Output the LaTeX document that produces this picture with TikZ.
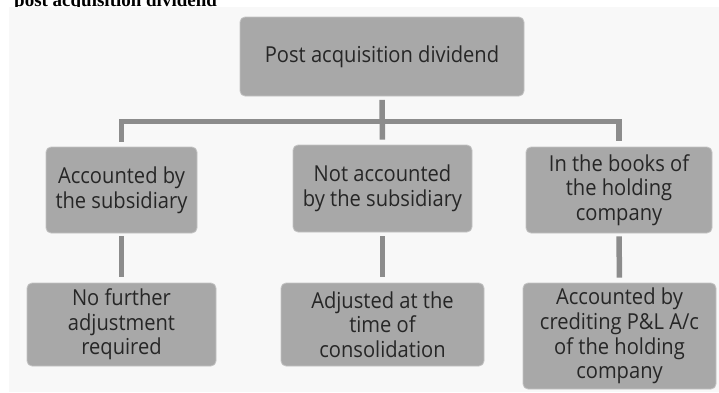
\documentclass[tikz,border=0pt]{standalone}
\usepackage{fontspec}
\setmainfont{Open Sans}
\newfontfamily\boxfont[FakeStretch=0.915]{Open Sans}
\newfontfamily\titlefont{Liberation Serif}
\definecolor{panelbg}{HTML}{F8F8F8}
\definecolor{boxfill}{HTML}{A8A8A8}
\definecolor{boxedge}{HTML}{C4C4C4}
\definecolor{connclr}{HTML}{8C8C8C}
\definecolor{txtclr}{HTML}{262626}
\tikzset{
  gbox/.style={draw=boxedge, line width=0.8pt, fill=boxfill, rounded corners=5pt,
    align=center, inner sep=0pt, text=txtclr,
    font=\boxfont\fontsize{22}{24.7}\selectfont},
  conn/.style={draw=connclr, line width=5.5pt},
}
\begin{document}
\begin{tikzpicture}[x=1pt,y=-1pt]
\useasboundingbox (0,0) rectangle (719,392);
\clip (0,0) rectangle (719,392);
\fill[white] (0,0) rectangle (719,392);
\node[anchor=base west, inner sep=0pt, font=\titlefont\bfseries\fontsize{19}{22}\selectfont] (title) at (14,6.5) {post acquisition dividend};
\fill[panelbg] (9,7) rectangle (719,392);

\node[gbox, minimum width=284pt, minimum height=79pt] (T) at (382,56.5) {Post acquisition dividend};

\node[gbox, minimum width=151pt, minimum height=86pt] (A) at (121.5,190) {Accounted by\\the subsidiary};
\node[gbox, minimum width=179pt, minimum height=87pt] (B) at (382.5,188.5) {Not accounted\\by the subsidiary};
\node[gbox, minimum width=186pt, minimum height=86pt] (C) at (619,190) {In the books of\\the holding\\company};

\node[gbox, minimum width=189pt, minimum height=83pt] (D) at (121.5,324.5) {No further\\adjustment\\required};
\node[gbox, minimum width=203pt, minimum height=83pt] (E) at (382.5,324.5) {Adjusted at the\\time of\\consolidation};
\node[gbox, minimum width=193pt, minimum height=106pt] (F) at (619.5,336) {Accounted by\\crediting P\&L A/c\\of the holding\\company};

\coordinate (bar) at (382.5,121.5);
\draw[conn, shorten <=3.5pt, shorten >=5pt] (T.south) -- (B.north);
\draw[conn, shorten >=5pt] (bar) -| (A.north);
\draw[conn, shorten >=6pt] (bar) -| (C.north);
\draw[conn, shorten <=3pt, shorten >=6pt] (A.south) -- (D.north);
\draw[conn, shorten <=4pt, shorten >=6pt] (B.south) -- (E.north);
\draw[conn, shorten <=3pt, shorten >=5pt] (C.south) -- (F.north);
\end{tikzpicture}
\end{document}
